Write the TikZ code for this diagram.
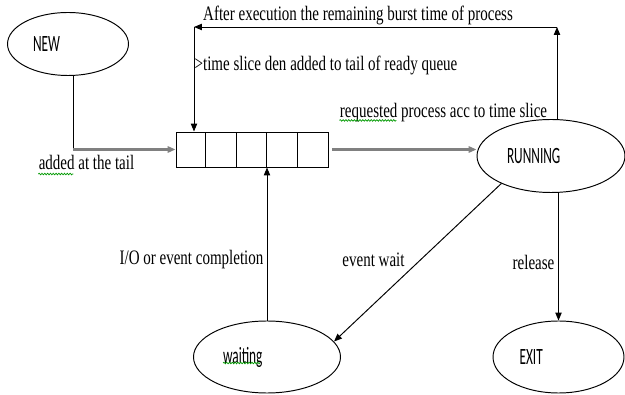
\documentclass[tikz,border=0pt]{standalone}
\usepackage{fontspec}
\setmainfont{Liberation Serif}
\newfontfamily\statefont[FakeStretch=0.57]{Carlito}
\newfontfamily\labelfont[FakeStretch=0.73]{Liberation Serif}
\usetikzlibrary{shapes.geometric,arrows.meta,decorations.pathmorphing}

\begin{document}
\begin{tikzpicture}[
  >={Triangle[length=4.5pt,width=3.6pt]},
  line width=0.55pt,
  state/.style={draw,ellipse,inner sep=0pt,align=left,
    font=\statefont\fontsize{13.3}{14}\selectfont},
  lbl/.style={inner sep=0pt,font=\labelfont\fontsize{11.7}{13}\selectfont},
  thick arrow/.style={->,line width=1.2pt,draw=black!50},
  squiggle/.style={draw=green!60!black,line width=0.4pt,decorate,
    decoration={snake,amplitude=0.45pt,segment length=1.6pt}}]
  \useasboundingbox (0,0) rectangle (12.5,7.88);

  \node[state,minimum width=2.42cm,minimum height=1.26cm,text width=1.4cm]
    (new) at (1.36,7.0) {NEW};
  \node[state,minimum width=2.96cm,minimum height=1.46cm,text width=1.76cm]
    (running) at (11.02,4.76) {RUNNING};
  \node[state,minimum width=2.94cm,minimum height=1.44cm,text width=1.76cm]
    (waiting) at (5.34,0.74) {waiting};
  \node[state,minimum width=2.62cm,minimum height=1.44cm,text width=1.56cm]
    (exit) at (11.17,0.74) {EXIT};

  \node[draw,minimum width=3.04cm,minimum height=0.70cm,inner sep=0pt]
    (queue) at (5.04,4.89) {};
  \foreach \i in {1,...,4}
    \draw ([xshift=\i*0.608cm]queue.south west)
    -- ([xshift=\i*0.608cm]queue.north west);

  \coordinate (tr) at (11.14,7.34);
  \coordinate (tl) at (3.88,7.34);
  \coordinate (bend) at ([xshift=0.1cm]new.south |- queue.west);

  \draw ([xshift=0.1cm]new.south) -- (bend);
  \draw[thick arrow] (bend) -- (queue.west);
  \draw[thick arrow] ([xshift=0.08cm]queue.east) -- (queue.east -| running.west);

  \draw[->] (tr |- running.north) -- (tr);
  \draw[->] (tr) -- (tl);
  \draw[->] (tl) -- (tl |- queue.north);

  \draw[->] (waiting.north) -- (waiting.north |- queue.south);
  \draw[->] (running.209) -- (waiting.13);
  \draw[->] (exit.north |- running.south) -- (exit.north);

  \node[lbl] (afterexec) at (7.16,7.58)
    {After execution the remaining burst time of process};
  \node[lbl] (slice) at (6.52,6.58)
    {>time slice den added to tail of ready queue};
  \node[lbl] (request) at (8.87,5.62) {requested process acc to time slice};
  \node[lbl] (addtail) at (1.73,4.64) {added at the tail};
  \node[lbl] (iodone) at (3.83,2.68) {I/O or event completion};
  \node[lbl] (evwait) at (7.47,2.68) {event wait};
  \node[lbl] (release) at (10.67,2.64) {release};

  \draw[squiggle] ([yshift=-0.1cm]addtail.base west) -- ++(0.7,0);
  \draw[squiggle] ([yshift=-0.05cm]request.base west) -- ++(1.14,0);
  \draw[squiggle] ([xshift=-0.88cm,yshift=-0.12cm]waiting.center) -- ++(0.74,0);
\end{tikzpicture}
\end{document}
